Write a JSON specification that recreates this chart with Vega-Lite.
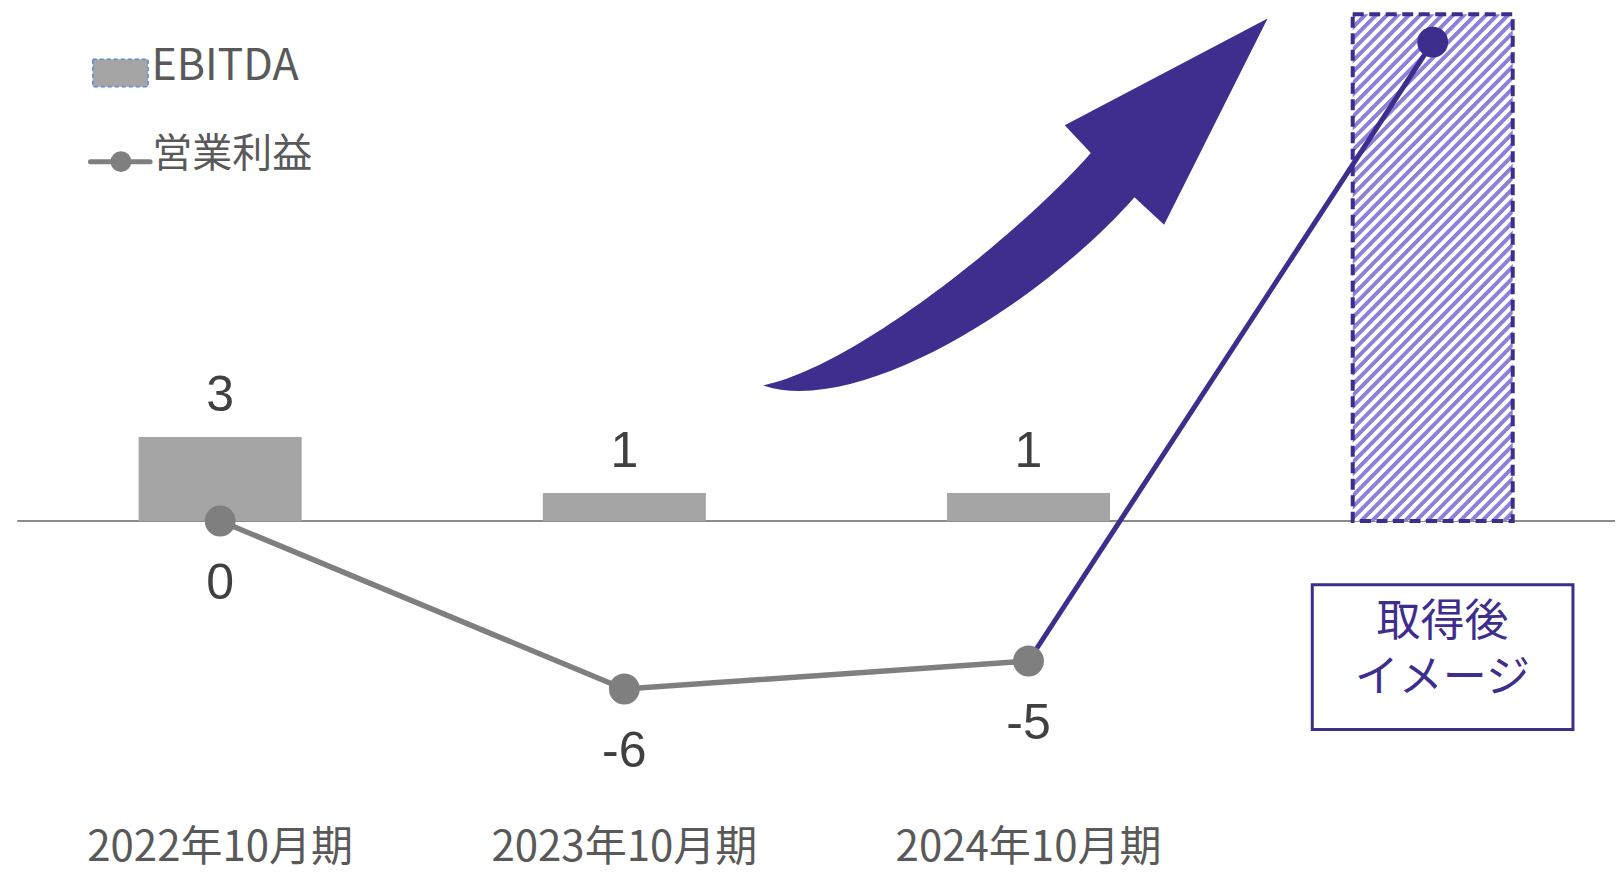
{
  "$schema": "https://vega.github.io/schema/vega-lite/v6.json",
  "width": 1620,
  "height": 872,
  "autosize": {"type": "none"},
  "padding": 0,
  "background": "white",
  "config": {"view": {"stroke": null}},
  "data": {
    "values": [
      {"idx": 0, "period": "2022年10月期", "ebitda": 3, "op": 0},
      {"idx": 1, "period": "2023年10月期", "ebitda": 1, "op": -6},
      {"idx": 2, "period": "2024年10月期", "ebitda": 1, "op": -5},
      {"idx": 3, "period": "取得後", "ebitda": 18.1, "op": 17.1}
    ]
  },
  "encoding": {
    "x": {
      "field": "idx",
      "type": "quantitative",
      "scale": {"domain": [-0.5323, 3.451], "nice": false, "zero": false},
      "axis": null
    },
    "y": {
      "field": "op",
      "type": "quantitative",
      "scale": {"domain": [-12.536, 18.607], "nice": false, "zero": false},
      "axis": null
    }
  },
  "layer": [
    {
      "transform": [{"filter": "datum.idx == 0"}],
      "mark": {"type": "rule", "color": "#8c8c8c", "strokeWidth": 2},
      "encoding": {
        "x": {"datum": -0.502},
        "x2": {"datum": 3.451},
        "y": {"datum": 0}
      }
    },
    {
      "transform": [{"filter": "datum.idx < 3"}],
      "mark": {"type": "bar", "width": 163, "color": "#a5a5a5"},
      "encoding": {
        "y": {"field": "ebitda", "type": "quantitative"},
        "y2": {"datum": 0}
      }
    },
    {
      "transform": [{"filter": "datum.idx == 3"}],
      "mark": {
        "type": "bar",
        "width": 160,
        "stroke": "#3d2d8c",
        "strokeWidth": 4,
        "strokeDash": [11, 5.5],
        "fill": {
          "gradient": "linear",
          "x1": 0, "y1": 0, "x2": 0.3832, "y2": 1.1974,
          "stops": [
            {"offset": 0, "color": "#8e7fd8"}, {"offset": 0.0067, "color": "#8e7fd8"}, {"offset": 0.0083, "color": "#ffffff"}, {"offset": 0.015, "color": "#ffffff"},
            {"offset": 0.0167, "color": "#8e7fd8"}, {"offset": 0.0233, "color": "#8e7fd8"}, {"offset": 0.025, "color": "#ffffff"}, {"offset": 0.0317, "color": "#ffffff"},
            {"offset": 0.0333, "color": "#8e7fd8"}, {"offset": 0.04, "color": "#8e7fd8"}, {"offset": 0.0417, "color": "#ffffff"}, {"offset": 0.0483, "color": "#ffffff"},
            {"offset": 0.05, "color": "#8e7fd8"}, {"offset": 0.0567, "color": "#8e7fd8"}, {"offset": 0.0583, "color": "#ffffff"}, {"offset": 0.065, "color": "#ffffff"},
            {"offset": 0.0667, "color": "#8e7fd8"}, {"offset": 0.0733, "color": "#8e7fd8"}, {"offset": 0.075, "color": "#ffffff"}, {"offset": 0.0817, "color": "#ffffff"},
            {"offset": 0.0833, "color": "#8e7fd8"}, {"offset": 0.09, "color": "#8e7fd8"}, {"offset": 0.0917, "color": "#ffffff"}, {"offset": 0.0983, "color": "#ffffff"},
            {"offset": 0.1, "color": "#8e7fd8"}, {"offset": 0.1067, "color": "#8e7fd8"}, {"offset": 0.1083, "color": "#ffffff"}, {"offset": 0.115, "color": "#ffffff"},
            {"offset": 0.1167, "color": "#8e7fd8"}, {"offset": 0.1233, "color": "#8e7fd8"}, {"offset": 0.125, "color": "#ffffff"}, {"offset": 0.1317, "color": "#ffffff"},
            {"offset": 0.1333, "color": "#8e7fd8"}, {"offset": 0.14, "color": "#8e7fd8"}, {"offset": 0.1417, "color": "#ffffff"}, {"offset": 0.1483, "color": "#ffffff"},
            {"offset": 0.15, "color": "#8e7fd8"}, {"offset": 0.1567, "color": "#8e7fd8"}, {"offset": 0.1583, "color": "#ffffff"}, {"offset": 0.165, "color": "#ffffff"},
            {"offset": 0.1667, "color": "#8e7fd8"}, {"offset": 0.1733, "color": "#8e7fd8"}, {"offset": 0.175, "color": "#ffffff"}, {"offset": 0.1817, "color": "#ffffff"},
            {"offset": 0.1833, "color": "#8e7fd8"}, {"offset": 0.19, "color": "#8e7fd8"}, {"offset": 0.1917, "color": "#ffffff"}, {"offset": 0.1983, "color": "#ffffff"},
            {"offset": 0.2, "color": "#8e7fd8"}, {"offset": 0.2067, "color": "#8e7fd8"}, {"offset": 0.2083, "color": "#ffffff"}, {"offset": 0.215, "color": "#ffffff"},
            {"offset": 0.2167, "color": "#8e7fd8"}, {"offset": 0.2233, "color": "#8e7fd8"}, {"offset": 0.225, "color": "#ffffff"}, {"offset": 0.2317, "color": "#ffffff"},
            {"offset": 0.2333, "color": "#8e7fd8"}, {"offset": 0.24, "color": "#8e7fd8"}, {"offset": 0.2417, "color": "#ffffff"}, {"offset": 0.2483, "color": "#ffffff"},
            {"offset": 0.25, "color": "#8e7fd8"}, {"offset": 0.2567, "color": "#8e7fd8"}, {"offset": 0.2583, "color": "#ffffff"}, {"offset": 0.265, "color": "#ffffff"},
            {"offset": 0.2667, "color": "#8e7fd8"}, {"offset": 0.2733, "color": "#8e7fd8"}, {"offset": 0.275, "color": "#ffffff"}, {"offset": 0.2817, "color": "#ffffff"},
            {"offset": 0.2833, "color": "#8e7fd8"}, {"offset": 0.29, "color": "#8e7fd8"}, {"offset": 0.2917, "color": "#ffffff"}, {"offset": 0.2983, "color": "#ffffff"},
            {"offset": 0.3, "color": "#8e7fd8"}, {"offset": 0.3067, "color": "#8e7fd8"}, {"offset": 0.3083, "color": "#ffffff"}, {"offset": 0.315, "color": "#ffffff"},
            {"offset": 0.3167, "color": "#8e7fd8"}, {"offset": 0.3233, "color": "#8e7fd8"}, {"offset": 0.325, "color": "#ffffff"}, {"offset": 0.3317, "color": "#ffffff"},
            {"offset": 0.3333, "color": "#8e7fd8"}, {"offset": 0.34, "color": "#8e7fd8"}, {"offset": 0.3417, "color": "#ffffff"}, {"offset": 0.3483, "color": "#ffffff"},
            {"offset": 0.35, "color": "#8e7fd8"}, {"offset": 0.3567, "color": "#8e7fd8"}, {"offset": 0.3583, "color": "#ffffff"}, {"offset": 0.365, "color": "#ffffff"},
            {"offset": 0.3667, "color": "#8e7fd8"}, {"offset": 0.3733, "color": "#8e7fd8"}, {"offset": 0.375, "color": "#ffffff"}, {"offset": 0.3817, "color": "#ffffff"},
            {"offset": 0.3833, "color": "#8e7fd8"}, {"offset": 0.39, "color": "#8e7fd8"}, {"offset": 0.3917, "color": "#ffffff"}, {"offset": 0.3983, "color": "#ffffff"},
            {"offset": 0.4, "color": "#8e7fd8"}, {"offset": 0.4067, "color": "#8e7fd8"}, {"offset": 0.4083, "color": "#ffffff"}, {"offset": 0.415, "color": "#ffffff"},
            {"offset": 0.4167, "color": "#8e7fd8"}, {"offset": 0.4233, "color": "#8e7fd8"}, {"offset": 0.425, "color": "#ffffff"}, {"offset": 0.4317, "color": "#ffffff"},
            {"offset": 0.4333, "color": "#8e7fd8"}, {"offset": 0.44, "color": "#8e7fd8"}, {"offset": 0.4417, "color": "#ffffff"}, {"offset": 0.4483, "color": "#ffffff"},
            {"offset": 0.45, "color": "#8e7fd8"}, {"offset": 0.4567, "color": "#8e7fd8"}, {"offset": 0.4583, "color": "#ffffff"}, {"offset": 0.465, "color": "#ffffff"},
            {"offset": 0.4667, "color": "#8e7fd8"}, {"offset": 0.4733, "color": "#8e7fd8"}, {"offset": 0.475, "color": "#ffffff"}, {"offset": 0.4817, "color": "#ffffff"},
            {"offset": 0.4833, "color": "#8e7fd8"}, {"offset": 0.49, "color": "#8e7fd8"}, {"offset": 0.4917, "color": "#ffffff"}, {"offset": 0.4983, "color": "#ffffff"},
            {"offset": 0.5, "color": "#8e7fd8"}, {"offset": 0.5067, "color": "#8e7fd8"}, {"offset": 0.5083, "color": "#ffffff"}, {"offset": 0.515, "color": "#ffffff"},
            {"offset": 0.5167, "color": "#8e7fd8"}, {"offset": 0.5233, "color": "#8e7fd8"}, {"offset": 0.525, "color": "#ffffff"}, {"offset": 0.5317, "color": "#ffffff"},
            {"offset": 0.5333, "color": "#8e7fd8"}, {"offset": 0.54, "color": "#8e7fd8"}, {"offset": 0.5417, "color": "#ffffff"}, {"offset": 0.5483, "color": "#ffffff"},
            {"offset": 0.55, "color": "#8e7fd8"}, {"offset": 0.5567, "color": "#8e7fd8"}, {"offset": 0.5583, "color": "#ffffff"}, {"offset": 0.565, "color": "#ffffff"},
            {"offset": 0.5667, "color": "#8e7fd8"}, {"offset": 0.5733, "color": "#8e7fd8"}, {"offset": 0.575, "color": "#ffffff"}, {"offset": 0.5817, "color": "#ffffff"},
            {"offset": 0.5833, "color": "#8e7fd8"}, {"offset": 0.59, "color": "#8e7fd8"}, {"offset": 0.5917, "color": "#ffffff"}, {"offset": 0.5983, "color": "#ffffff"},
            {"offset": 0.6, "color": "#8e7fd8"}, {"offset": 0.6067, "color": "#8e7fd8"}, {"offset": 0.6083, "color": "#ffffff"}, {"offset": 0.615, "color": "#ffffff"},
            {"offset": 0.6167, "color": "#8e7fd8"}, {"offset": 0.6233, "color": "#8e7fd8"}, {"offset": 0.625, "color": "#ffffff"}, {"offset": 0.6317, "color": "#ffffff"},
            {"offset": 0.6333, "color": "#8e7fd8"}, {"offset": 0.64, "color": "#8e7fd8"}, {"offset": 0.6417, "color": "#ffffff"}, {"offset": 0.6483, "color": "#ffffff"},
            {"offset": 0.65, "color": "#8e7fd8"}, {"offset": 0.6567, "color": "#8e7fd8"}, {"offset": 0.6583, "color": "#ffffff"}, {"offset": 0.665, "color": "#ffffff"},
            {"offset": 0.6667, "color": "#8e7fd8"}, {"offset": 0.6733, "color": "#8e7fd8"}, {"offset": 0.675, "color": "#ffffff"}, {"offset": 0.6817, "color": "#ffffff"},
            {"offset": 0.6833, "color": "#8e7fd8"}, {"offset": 0.69, "color": "#8e7fd8"}, {"offset": 0.6917, "color": "#ffffff"}, {"offset": 0.6983, "color": "#ffffff"},
            {"offset": 0.7, "color": "#8e7fd8"}, {"offset": 0.7067, "color": "#8e7fd8"}, {"offset": 0.7083, "color": "#ffffff"}, {"offset": 0.715, "color": "#ffffff"},
            {"offset": 0.7167, "color": "#8e7fd8"}, {"offset": 0.7233, "color": "#8e7fd8"}, {"offset": 0.725, "color": "#ffffff"}, {"offset": 0.7317, "color": "#ffffff"},
            {"offset": 0.7333, "color": "#8e7fd8"}, {"offset": 0.74, "color": "#8e7fd8"}, {"offset": 0.7417, "color": "#ffffff"}, {"offset": 0.7483, "color": "#ffffff"},
            {"offset": 0.75, "color": "#8e7fd8"}, {"offset": 0.7567, "color": "#8e7fd8"}, {"offset": 0.7583, "color": "#ffffff"}, {"offset": 0.765, "color": "#ffffff"},
            {"offset": 0.7667, "color": "#8e7fd8"}, {"offset": 0.7733, "color": "#8e7fd8"}, {"offset": 0.775, "color": "#ffffff"}, {"offset": 0.7817, "color": "#ffffff"},
            {"offset": 0.7833, "color": "#8e7fd8"}, {"offset": 0.79, "color": "#8e7fd8"}, {"offset": 0.7917, "color": "#ffffff"}, {"offset": 0.7983, "color": "#ffffff"},
            {"offset": 0.8, "color": "#8e7fd8"}, {"offset": 0.8067, "color": "#8e7fd8"}, {"offset": 0.8083, "color": "#ffffff"}, {"offset": 0.815, "color": "#ffffff"},
            {"offset": 0.8167, "color": "#8e7fd8"}, {"offset": 0.8233, "color": "#8e7fd8"}, {"offset": 0.825, "color": "#ffffff"}, {"offset": 0.8317, "color": "#ffffff"},
            {"offset": 0.8333, "color": "#8e7fd8"}, {"offset": 0.84, "color": "#8e7fd8"}, {"offset": 0.8417, "color": "#ffffff"}, {"offset": 0.8483, "color": "#ffffff"},
            {"offset": 0.85, "color": "#8e7fd8"}, {"offset": 0.8567, "color": "#8e7fd8"}, {"offset": 0.8583, "color": "#ffffff"}, {"offset": 0.865, "color": "#ffffff"},
            {"offset": 0.8667, "color": "#8e7fd8"}, {"offset": 0.8733, "color": "#8e7fd8"}, {"offset": 0.875, "color": "#ffffff"}, {"offset": 0.8817, "color": "#ffffff"},
            {"offset": 0.8833, "color": "#8e7fd8"}, {"offset": 0.89, "color": "#8e7fd8"}, {"offset": 0.8917, "color": "#ffffff"}, {"offset": 0.8983, "color": "#ffffff"},
            {"offset": 0.9, "color": "#8e7fd8"}, {"offset": 0.9067, "color": "#8e7fd8"}, {"offset": 0.9083, "color": "#ffffff"}, {"offset": 0.915, "color": "#ffffff"},
            {"offset": 0.9167, "color": "#8e7fd8"}, {"offset": 0.9233, "color": "#8e7fd8"}, {"offset": 0.925, "color": "#ffffff"}, {"offset": 0.9317, "color": "#ffffff"},
            {"offset": 0.9333, "color": "#8e7fd8"}, {"offset": 0.94, "color": "#8e7fd8"}, {"offset": 0.9417, "color": "#ffffff"}, {"offset": 0.9483, "color": "#ffffff"},
            {"offset": 0.95, "color": "#8e7fd8"}, {"offset": 0.9567, "color": "#8e7fd8"}, {"offset": 0.9583, "color": "#ffffff"}, {"offset": 0.965, "color": "#ffffff"},
            {"offset": 0.9667, "color": "#8e7fd8"}, {"offset": 0.9733, "color": "#8e7fd8"}, {"offset": 0.975, "color": "#ffffff"}, {"offset": 0.9817, "color": "#ffffff"},
            {"offset": 0.9833, "color": "#8e7fd8"}, {"offset": 0.99, "color": "#8e7fd8"}, {"offset": 0.9917, "color": "#ffffff"}, {"offset": 0.9983, "color": "#ffffff"},
            {"offset": 1, "color": "#8e7fd8"}
          ]
        }
      },
      "encoding": {
        "y": {"field": "ebitda", "type": "quantitative"},
        "y2": {"datum": 0}
      }
    },
    {
      "transform": [{"filter": "datum.idx <= 2"}],
      "mark": {"type": "line", "color": "#7f7f7f", "strokeWidth": 5.5}
    },
    {
      "transform": [{"filter": "datum.idx >= 2"}],
      "mark": {"type": "line", "color": "#3d2d8c", "strokeWidth": 5}
    },
    {
      "mark": {"type": "point", "filled": true, "opacity": 1, "size": 950, "strokeWidth": 0},
      "encoding": {
        "color": {
          "condition": {"test": "datum.idx == 3", "value": "#3d2d8c"},
          "value": "#7f7f7f"
        }
      }
    },
    {
      "transform": [{"filter": "datum.idx < 3"}],
      "mark": {"type": "text", "font": "Liberation Sans", "fontSize": 50, "color": "#404040", "baseline": "middle", "dy": -41},
      "encoding": {
        "y": {"field": "ebitda", "type": "quantitative"},
        "text": {"field": "ebitda"}
      }
    },
    {
      "transform": [{"filter": "datum.idx < 3"}],
      "mark": {"type": "text", "font": "Liberation Sans", "fontSize": 50, "color": "#404040", "baseline": "middle", "dy": 63},
      "encoding": {
        "text": {"field": "op"}
      }
    },
    {
      "transform": [{"filter": "datum.idx < 3"}],
      "mark": {"type": "text", "font": "Noto Sans CJK JP", "fontSize": 42, "color": "#595959", "baseline": "middle"},
      "encoding": {
        "y": {"datum": -11.68},
        "text": {"field": "period"}
      }
    },
    {
      "transform": [{"filter": "datum.idx == 0"}],
      "mark": {
        "type": "point",
        "shape": "M-0.97 0.697 C-0.6 0.82 0.1 0.38 0.458 -0.027 L0.572 0.079 L0.97 -0.714 L0.19 -0.304 L0.29 -0.197 C0.05 0.08 -0.6 0.62 -0.97 0.697 Z",
        "size": 270400,
        "filled": true,
        "opacity": 1,
        "color": "#402e8e",
        "strokeWidth": 0
      },
      "encoding": {
        "x": {"datum": 1.9675},
        "y": {"datum": 11.314}
      }
    },
    {
      "transform": [{"filter": "datum.idx == 0"}],
      "mark": {"type": "rect", "fill": "white", "stroke": "#3d2d8c", "strokeWidth": 3},
      "encoding": {
        "x": {"datum": 2.702},
        "x2": {"datum": 3.347},
        "y": {"datum": -2.279},
        "y2": {"datum": -7.443}
      }
    },
    {
      "transform": [{"filter": "datum.idx == 0"}],
      "mark": {
        "type": "text",
        "text": ["取得後", "イメージ"],
        "lineHeight": 56,
        "font": "Noto Sans CJK JP",
        "fontSize": 44,
        "color": "#3d2d8c",
        "baseline": "middle"
      },
      "encoding": {
        "x": {"datum": 3.024},
        "y": {"datum": -3.643}
      }
    },
    {
      "transform": [{"filter": "datum.idx == 0"}],
      "mark": {"type": "rect", "fill": "#a5a5a5", "stroke": "#5b8bd0", "strokeWidth": 1.5, "strokeDash": [4, 3]},
      "encoding": {
        "x": {"datum": -0.3152},
        "x2": {"datum": -0.1783},
        "y": {"datum": 16.489},
        "y2": {"datum": 15.511}
      }
    },
    {
      "transform": [{"filter": "datum.idx == 0"}],
      "mark": {"type": "rule", "color": "#7f7f7f", "strokeWidth": 5, "strokeCap": "round"},
      "encoding": {
        "x": {"datum": -0.3209},
        "x2": {"datum": -0.1733},
        "y": {"datum": 12.832}
      }
    },
    {
      "transform": [{"filter": "datum.idx == 0"}],
      "mark": {"type": "point", "filled": true, "opacity": 1, "size": 430, "color": "#7f7f7f", "strokeWidth": 0},
      "encoding": {
        "x": {"datum": -0.2454},
        "y": {"datum": 12.832}
      }
    },
    {
      "transform": [{"filter": "datum.idx == 0"}],
      "mark": {"type": "text", "text": "EBITDA", "font": "Noto Sans CJK JP", "fontSize": 43, "color": "#595959", "align": "left", "baseline": "middle"},
      "encoding": {
        "x": {"datum": -0.17},
        "y": {"datum": 16.214}
      }
    },
    {
      "transform": [{"filter": "datum.idx == 0"}],
      "mark": {"type": "text", "text": "営業利益", "font": "Noto Sans CJK JP", "fontSize": 40, "color": "#595959", "align": "left", "baseline": "middle"},
      "encoding": {
        "x": {"datum": -0.168},
        "y": {"datum": 13.07}
      }
    }
  ]
}
